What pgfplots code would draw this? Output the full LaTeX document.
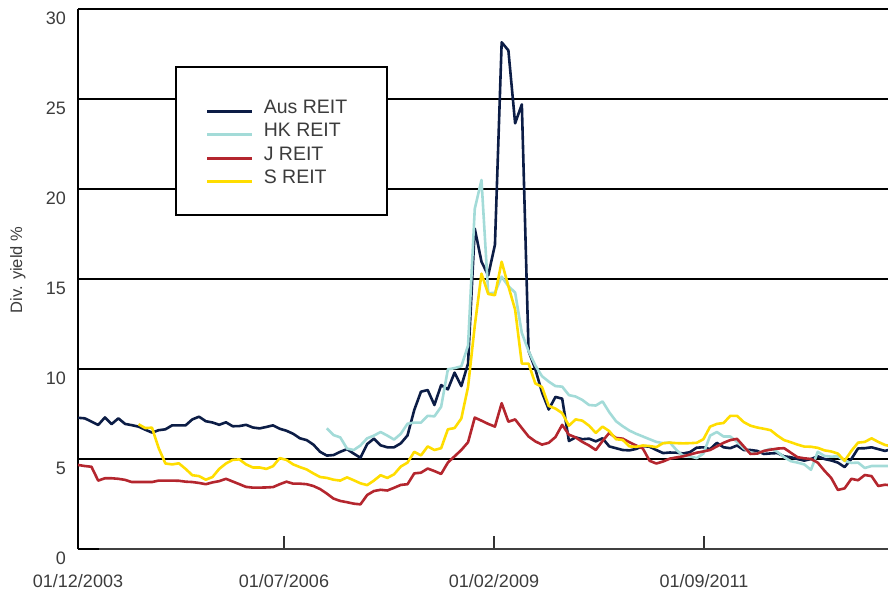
\documentclass[border=0pt]{standalone}
\usepackage{fontspec}
\setmainfont{Liberation Sans}
\usepackage{pgfplots}
\usepackage{pgfplotstable}
\pgfplotsset{compat=1.18}
\definecolor{ausc}{RGB}{12,29,70}
\definecolor{hkc}{RGB}{163,219,216}
\definecolor{jc}{RGB}{180,38,46}
\definecolor{sc}{RGB}{255,221,0}
\definecolor{txt}{RGB}{60,60,60}

\pgfplotstableread{
i aus hk j s
0 7.29 nan 4.67 nan
1 7.26 nan 4.61 nan
2 7.08 nan 4.57 nan
3 6.89 nan 3.80 nan
4 7.31 nan 3.93 nan
5 6.94 nan 3.93 nan
6 7.26 nan 3.90 nan
7 6.95 nan 3.84 nan
8 6.88 nan 3.72 nan
9 6.80 nan 3.72 6.93
10 6.63 nan 3.72 6.72
11 6.47 nan 3.72 6.74
12 6.60 nan 3.80 5.60
13 6.65 nan 3.80 4.75
14 6.87 nan 3.80 4.70
15 6.87 nan 3.79 4.76
16 6.87 nan 3.74 4.45
17 7.20 nan 3.72 4.10
18 7.35 nan 3.67 4.05
19 7.10 nan 3.60 3.85
20 7.03 nan 3.70 4.00
21 6.90 nan 3.77 4.45
22 7.04 nan 3.90 4.75
23 6.82 nan 3.75 4.95
24 6.83 nan 3.60 4.98
25 6.90 nan 3.45 4.70
26 6.75 nan 3.41 4.53
27 6.70 nan 3.41 4.53
28 6.78 nan 3.42 4.45
29 6.87 nan 3.44 4.60
30 6.68 nan 3.60 5.05
31 6.57 nan 3.74 4.95
32 6.40 nan 3.63 4.70
33 6.15 nan 3.63 4.55
34 6.05 nan 3.60 4.42
35 5.80 nan 3.50 4.20
36 5.40 nan 3.33 4.00
37 5.19 6.70 3.08 3.95
38 5.22 6.33 2.80 3.85
39 5.40 6.20 2.67 3.80
40 5.55 5.58 2.60 3.98
41 5.30 5.50 2.52 3.82
42 5.07 5.75 2.48 3.65
43 5.83 6.15 3.00 3.55
44 6.13 6.30 3.22 3.80
45 5.76 6.50 3.29 4.10
46 5.65 6.30 3.25 3.95
47 5.65 6.08 3.40 4.15
48 5.87 6.40 3.56 4.58
49 6.31 6.96 3.60 4.80
50 7.72 7.02 4.20 5.40
51 8.74 7.02 4.24 5.20
52 8.83 7.40 4.47 5.70
53 8.00 7.37 4.33 5.50
54 9.11 7.90 4.17 5.60
55 8.87 9.98 4.80 6.65
56 9.80 10.05 5.15 6.72
57 9.05 10.15 5.50 7.25
58 10.30 11.30 5.93 9.00
59 17.80 18.90 7.30 12.40
60 15.96 20.50 7.13 15.30
61 15.20 14.20 6.95 14.17
62 16.90 14.24 6.80 14.10
63 28.15 15.13 8.10 15.96
64 27.70 14.60 7.07 14.60
65 23.65 14.25 7.20 13.30
66 24.70 12.00 6.72 10.30
67 11.00 11.00 6.25 10.30
68 10.00 10.20 5.98 9.20
69 8.70 9.60 5.80 9.00
70 7.75 9.30 5.90 7.95
71 8.45 9.05 6.22 7.80
72 8.35 9.02 6.90 7.55
73 6.00 8.55 6.35 6.85
74 6.20 8.47 6.20 7.20
75 6.10 8.28 5.95 7.13
76 6.13 8.00 5.75 6.85
77 5.98 7.97 5.50 6.45
78 6.15 8.20 6.00 6.80
79 5.70 7.60 6.45 6.55
80 5.60 7.10 6.17 6.10
81 5.50 6.82 6.13 6.06
82 5.48 6.58 5.93 5.70
83 5.56 6.40 5.75 5.68
84 5.72 6.25 5.58 5.75
85 5.68 6.10 4.90 5.72
86 5.50 5.95 4.75 5.66
87 5.33 5.88 4.86 5.88
88 5.36 5.92 5.02 5.91
89 5.35 5.50 5.09 5.88
90 5.31 5.17 5.15 5.87
91 5.38 5.15 5.25 5.88
92 5.63 5.05 5.35 5.90
93 5.65 5.30 5.42 6.10
94 5.55 6.30 5.50 6.80
95 5.90 6.50 5.70 6.95
96 5.65 6.25 5.90 7.00
97 5.60 6.25 6.05 7.40
98 5.75 5.95 6.12 7.40
99 5.50 5.60 5.70 7.05
100 5.50 5.35 5.28 6.85
101 5.45 5.30 5.30 6.75
102 5.28 5.45 5.45 6.68
103 5.31 5.57 5.52 6.60
104 5.33 5.40 5.58 6.30
105 5.15 5.10 5.60 6.05
106 5.10 4.88 5.35 5.93
107 5.00 4.80 5.10 5.80
108 4.91 4.70 5.04 5.69
109 5.00 4.40 5.00 5.68
110 5.15 5.40 4.80 5.62
111 5.00 5.17 4.35 5.48
112 4.92 5.13 3.95 5.42
113 4.80 5.15 3.28 5.30
114 4.55 4.90 3.37 4.90
115 5.00 4.78 3.90 5.45
116 5.59 4.80 3.82 5.91
117 5.60 4.50 4.11 5.95
118 5.65 4.61 4.05 6.15
119 5.55 4.61 3.50 5.95
120 5.45 4.61 3.57 5.78
121 5.55 4.61 3.54 5.70
}\reitdata

\begin{document}
\begin{tikzpicture}
\useasboundingbox (-78pt,-46pt) rectangle (810pt,549pt);
\begin{axis}[
  scale only axis, width=810pt, height=540pt,
  xmin=0, xmax=120.45, ymin=0, ymax=30,
  axis lines*=left,
  x axis line style={line width=1.3pt, black!75},
  y axis line style={line width=1.3pt, black},
  ytick={0,5,...,30},
  ymajorgrids, grid style={line width=1.2pt, black},
  xtick={0,30.63,61.86,93.09},
  xticklabels={01/12/2003,01/07/2006,01/02/2009,01/09/2011},
  xtick align=inside,
  ytick style={draw=none},
  xtick style={line width=1.2pt, black!80},
  major tick length=13pt,
  /pgf/number format/assume math mode=true,
  ticklabel style={font=\fontsize{18}{22}\selectfont, text=txt},
  xticklabel style={anchor=north, inner sep=0pt, yshift=-25pt},
  yticklabel style={anchor=east, inner sep=0pt, xshift=-12pt, yshift=-9pt},
  ylabel={Div. yield \%},
  ylabel style={at={(axis description cs:-0.0741,0.5167)}, anchor=center, font=\fontsize{16.5}{20}\selectfont, text=txt},
  clip=true,
  legend cell align=left,
  legend image code/.code={\draw[#1] (0pt,0pt) -- (45pt,0pt);},
  legend style={draw=none, fill=none, at={(rel axis cs:0.158,0.8328)}, anchor=north west,
    inner sep=0pt, column sep=10pt, row sep=0pt,
    font=\fontsize{19.5}{23}\selectfont, text=txt,
    nodes={inner sep=0pt, text height=14pt, text depth=9.5pt}},
]
\draw[line width=1.3pt, black, fill=white] (rel axis cs:0.121,0.8926) rectangle (rel axis cs:0.3815,0.6185);
\draw[line width=2.6pt, black] (axis cs:0,0) -- (axis cs:3.08,0);
\addplot[ausc, line width=2.6pt, line join=round] table[x=i, y=aus] {\reitdata};
\addlegendentry{Aus REIT}
\addplot[hkc, line width=2.6pt, line join=round] table[x=i, y=hk] {\reitdata};
\addlegendentry{HK REIT}
\addplot[jc, line width=2.6pt, line join=round] table[x=i, y=j] {\reitdata};
\addlegendentry{J REIT}
\addplot[sc, line width=2.6pt, line join=round] table[x=i, y=s] {\reitdata};
\addlegendentry{S REIT}
\end{axis}
\end{tikzpicture}
\end{document}
